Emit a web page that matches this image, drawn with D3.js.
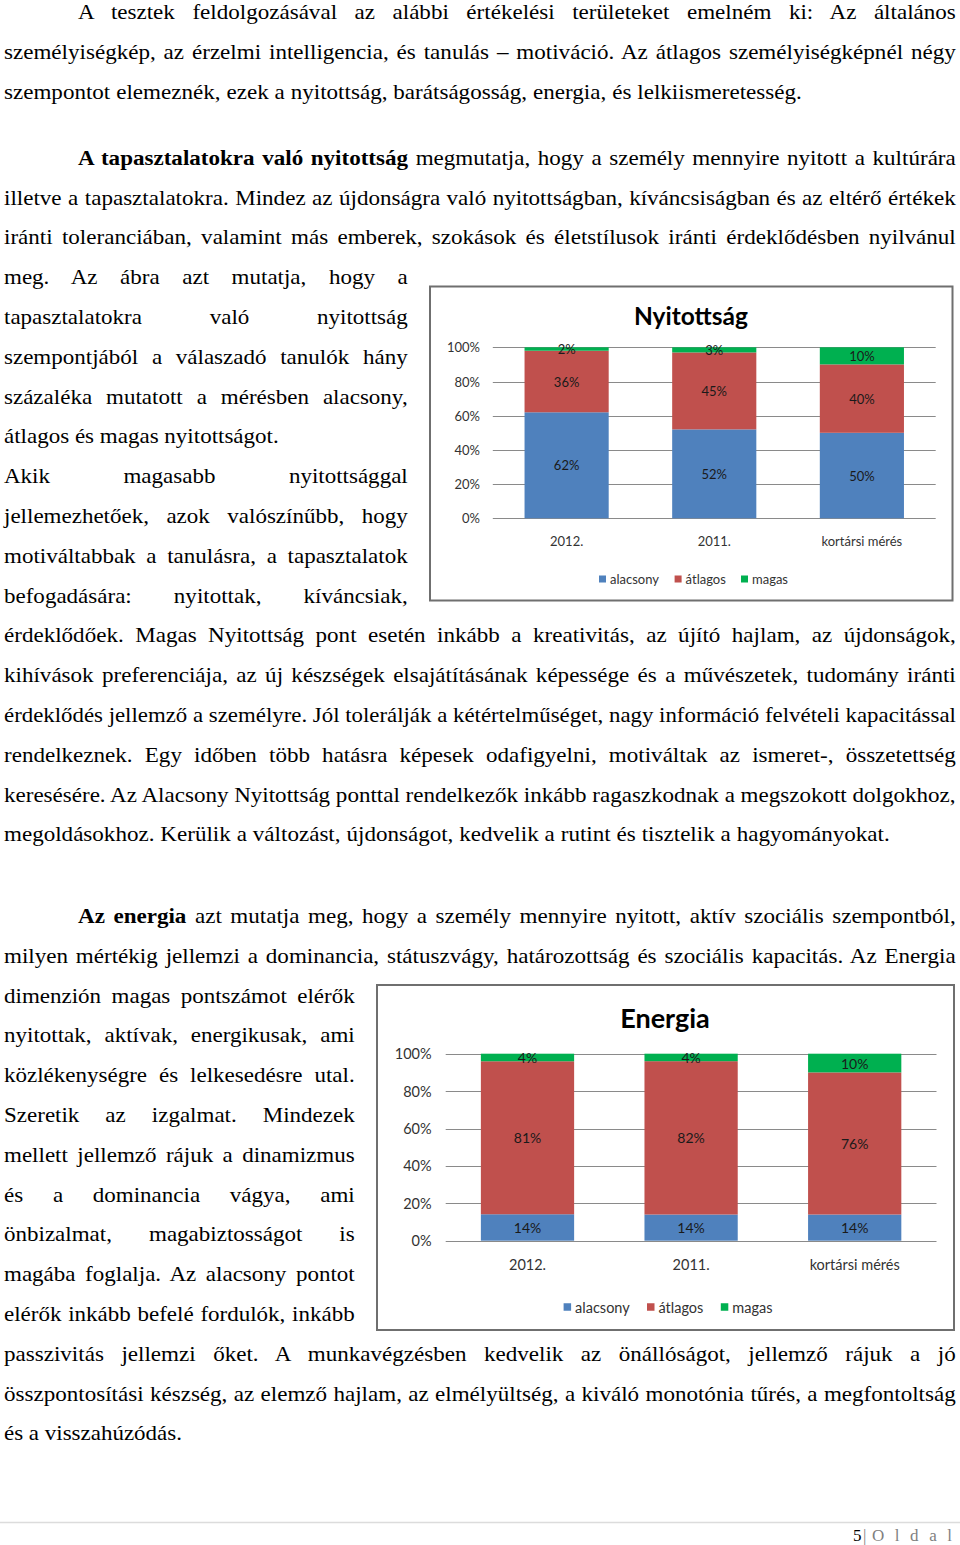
<!DOCTYPE html>
<html><head><meta charset="utf-8">
<script src="https://cdn.jsdelivr.net/npm/d3@7"></script>
<style>
body{margin:0;background:#fff}
svg{display:block}
.body{font-family:"Liberation Serif","Times New Roman",serif;font-size:21px;fill:#000}
.ch{font-family:Lato,"Noto Sans",sans-serif}
</style>
</head><body>
<svg id="page" width="960" height="1545"></svg>
<script>
// ---------- DATA ----------
const categories = ["2012.", "2011.", "kortársi mérés"];
const seriesNames = ["alacsony", "átlagos", "magas"];
const seriesColors = ["#4f81bd", "#c0504d", "#00b050"];
const yTicks = [0, 0.2, 0.4, 0.6, 0.8, 1];

const nyitAlacsony = [62, 52, 50];
const nyitAtlagos  = [36, 45, 40];
const nyitMagas    = [2, 3, 10];

const enAlacsony = [14, 14, 14];
const enAtlagos  = [81, 82, 76];
const enMagas    = [4, 4, 10];

// ---------- TEXT ----------
const para1 = [
  "A tesztek feldolgozásával az alábbi értékelési területeket emelném ki: Az általános",
  "személyiségkép, az érzelmi intelligencia, és tanulás – motiváció. Az átlagos személyiségképnél négy",
  "szempontot elemeznék, ezek a nyitottság, barátságosság, energia, és lelkiismeretesség."
];
const para2 = [
  "**A tapasztalatokra való nyitottság** megmutatja, hogy a személy mennyire nyitott a kultúrára",
  "illetve a tapasztalatokra. Mindez az újdonságra való nyitottságban, kíváncsiságban és az eltérő értékek",
  "iránti toleranciában, valamint más emberek, szokások és életstílusok iránti érdeklődésben nyilvánul",
  "meg. Az ábra azt mutatja, hogy a",
  "tapasztalatokra való nyitottság",
  "szempontjából a válaszadó tanulók hány",
  "százaléka mutatott a mérésben alacsony,",
  "átlagos és magas nyitottságot.",
  "Akik magasabb nyitottsággal",
  "jellemezhetőek, azok valószínűbb, hogy",
  "motiváltabbak a tanulásra, a tapasztalatok",
  "befogadására: nyitottak, kíváncsiak,",
  "érdeklődőek. Magas Nyitottság pont esetén inkább a kreativitás, az újító hajlam, az újdonságok,",
  "kihívások preferenciája, az új készségek elsajátításának képessége és a művészetek, tudomány iránti",
  "érdeklődés jellemző a személyre. Jól tolerálják a kétértelműséget, nagy információ felvételi kapacitással",
  "rendelkeznek. Egy időben több hatásra képesek odafigyelni, motiváltak az ismeret-, összetettség",
  "keresésére. Az Alacsony Nyitottság ponttal rendelkezők inkább ragaszkodnak a megszokott dolgokhoz,",
  "megoldásokhoz. Kerülik a változást, újdonságot, kedvelik a rutint és tisztelik a hagyományokat."
];
const para3 = [
  "**Az energia** azt mutatja meg, hogy a személy mennyire nyitott, aktív szociális szempontból,",
  "milyen mértékig jellemzi a dominancia, státuszvágy, határozottság és szociális kapacitás. Az Energia",
  "dimenzión magas pontszámot elérők",
  "nyitottak, aktívak, energikusak, ami",
  "közlékenységre és lelkesedésre utal.",
  "Szeretik az izgalmat. Mindezek",
  "mellett jellemző rájuk a dinamizmus",
  "és a dominancia vágya, ami",
  "önbizalmat, magabiztosságot is",
  "magába foglalja. Az alacsony pontot",
  "elérők inkább befelé fordulók, inkább",
  "passzivitás jellemzi őket. A munkavégzésben kedvelik az önállóságot, jellemző rájuk a jó",
  "összpontosítási készség, az elemző hajlam, az elmélyültség, a kiváló monotónia tűrés, a megfontoltság",
  "és a visszahúzódás."
];

const page = d3.select("#page");

function addRich(sel, str) {
  str.split("**").forEach((p, i) => {
    if (!p) return;
    sel.append("tspan").attr("font-weight", i % 2 ? "bold" : "normal").text(p);
  });
}
function natural(str) {
  const t = page.append("text").attr("class", "body");
  addRich(t, str);
  const w = t.node().getComputedTextLength();
  t.remove();
  return w;
}
// horizontal glyph scale, matched to unjustified (last) lines of the reference
const kFull = (798 / natural(para1[2]) + 886 / natural(para2[17]) + 178 / natural(para3[13])) / 3;
const kSide = 275 / natural(para2[7]);

function drawLine(str, x0, x1, y, k) {
  const w = natural(str);
  const target = x1 - x0;
  const gaps = (str.match(/ /g) || []).length;
  let kk = k, ws = 0;
  if (w * k > target) kk = target / w;
  else if (gaps > 0) ws = (target / k - w) / gaps;
  const g = page.append("g").attr("transform", `translate(${x0},${y}) scale(${kk},1)`);
  const t = g.append("text").attr("class", "body").attr("x", 0).attr("y", 0)
    .style("word-spacing", ws + "px");
  addRich(t, str);
}

const LH = 39.8;
function layoutPara(lines, y0, ends) {
  lines.forEach((s, i) => {
    const e = ends[i];
    drawLine(s, e[0], e[1], y0 + i * LH, e[2]);
  });
}
layoutPara(para1, 19, [[78, 956, kFull], [4, 956, kFull], [4, 802, kFull]]);
const p2ends = para2.map((s, i) => {
  if (i === 0) return [78, 956, kFull];
  if (i >= 3 && i <= 11) return i === 7 ? [4, 279, kSide] : [4, 408, kSide];
  if (i === 17) return [4, 890, kFull];
  return [4, 956, kFull];
});
layoutPara(para2, 164.8, p2ends);
const p3ends = para3.map((s, i) => {
  if (i === 0) return [78, 956, kFull];
  if (i >= 2 && i <= 10) return [4, 355, kSide];
  if (i === 13) return [4, 182, kFull];
  return [4, 956, kFull];
});
layoutPara(para3, 923, p3ends);

// footer
page.append("line").attr("x1", 0).attr("x2", 960).attr("y1", 1522.5).attr("y2", 1522.5)
  .attr("stroke", "#dcdcdc").attr("stroke-width", 1.5);
page.append("text").attr("class", "body").attr("x", 853).attr("y", 1541)
  .style("font-size", "17px").text("5");
page.append("text").attr("class", "body").attr("x", 863).attr("y", 1541)
  .style("font-size", "17px").style("fill", "#7f7f7f").text("|");
page.append("text").attr("class", "body").attr("x", 872).attr("y", 1541)
  .style("font-size", "17px").style("fill", "#7f7f7f")
  .attr("textLength", 80).attr("lengthAdjust", "spacing").text("Oldal");

// ---------- CHARTS ----------
function drawChart(cfg) {
  const g = page.append("g").attr("class", "ch");
  g.append("rect").attr("x", cfg.box[0]).attr("y", cfg.box[1])
    .attr("width", cfg.box[2]).attr("height", cfg.box[3])
    .attr("fill", "#fff").attr("stroke", "#6f6f6f").attr("stroke-width", 2);
  g.append("text").attr("x", cfg.titleX).attr("y", cfg.titleY)
    .attr("text-anchor", "middle").attr("dominant-baseline", "central")
    .attr("font-weight", "bold").attr("font-size", cfg.titleSize).attr("fill", "#000")
    .text(cfg.title);

  const x = d3.scaleBand().domain(categories).range([cfg.px0, cfg.px1])
    .paddingInner(0.43).paddingOuter(0.215);
  const y = d3.scaleLinear().domain([0, 1]).range([cfg.pyB, cfg.pyT]);

  g.append("g").selectAll("line").data(yTicks).join("line")
    .attr("x1", cfg.px0).attr("x2", cfg.px1)
    .attr("y1", d => Math.round(y(d)) + 0.5).attr("y2", d => Math.round(y(d)) + 0.5)
    .attr("stroke", "#8a8a8a").attr("stroke-width", 1);

  const ya = g.append("g").attr("transform", `translate(${cfg.yLabelRight + 6},0)`)
    .call(d3.axisLeft(y).tickValues(yTicks).tickFormat(d3.format(".0%")).tickSize(0).tickPadding(6));
  ya.select(".domain").remove();
  ya.selectAll("text").attr("font-family", "Lato, 'Noto Sans', sans-serif")
    .attr("font-size", cfg.fs).attr("fill", "#333").attr("dy", "0.35em");

  const xa = g.append("g").attr("transform", `translate(0,${cfg.xLabelY})`)
    .call(d3.axisBottom(x).tickSize(0).tickPadding(0));
  xa.select(".domain").remove();
  xa.selectAll("text").attr("font-family", "Lato, 'Noto Sans', sans-serif")
    .attr("font-size", cfg.fs).attr("fill", "#333").attr("y", 0).attr("dy", "0.35em");

  const rows = categories.map((c, i) => {
    const r = { cat: c };
    seriesNames.forEach((s, k) => r[s] = cfg.values[k][i]);
    return r;
  });
  const stacked = d3.stack().keys(seriesNames).offset(d3.stackOffsetExpand)(rows);

  const layers = g.append("g").selectAll("g").data(stacked).join("g")
    .attr("fill", (d, i) => seriesColors[i]);
  layers.selectAll("rect").data(d => d).join("rect")
    .attr("x", d => x(d.data.cat)).attr("width", x.bandwidth())
    .attr("y", d => y(d[1])).attr("height", d => y(d[0]) - y(d[1]));

  const lab = g.append("g").selectAll("g").data(stacked).join("g");
  lab.selectAll("text").data(d => d.map(v => ({ v, key: d.key }))).join("text")
    .attr("x", d => x(d.v.data.cat) + x.bandwidth() / 2)
    .attr("y", d => (y(d.v[0]) + y(d.v[1])) / 2)
    .attr("text-anchor", "middle").attr("dominant-baseline", "central")
    .attr("font-size", cfg.labelFs).attr("fill", "#1a1a1a")
    .text(d => d.v.data[d.key] + "%");

  const leg = g.append("g").selectAll("g").data(seriesNames).join("g")
    .attr("transform", (d, i) => `translate(${cfg.legendX[i]},${cfg.legendY})`);
  leg.append("rect").attr("x", 0).attr("y", -cfg.sq / 2).attr("width", cfg.sq).attr("height", cfg.sq)
    .attr("fill", (d, i) => seriesColors[i]);
  leg.append("text").attr("x", cfg.sq + 4).attr("y", 0).attr("dominant-baseline", "central")
    .attr("font-size", cfg.fs).attr("fill", "#333").text(d => d);
}

drawChart({
  title: "Nyitottság", titleX: 691, titleY: 315, titleSize: 24.5,
  box: [430, 286.5, 522.5, 314],
  px0: 492.8, px1: 935.7, pyT: 347.3, pyB: 518.3,
  yLabelRight: 480, xLabelY: 541, legendY: 579,
  legendX: [599, 674.6, 741], sq: 7,
  fs: 13, labelFs: 13,
  values: [nyitAlacsony, nyitAtlagos, nyitMagas]
});

drawChart({
  title: "Energia", titleX: 665, titleY: 1017, titleSize: 27,
  box: [377, 985, 577, 345],
  px0: 445.7, px1: 936.5, pyT: 1053.7, pyB: 1240.7,
  yLabelRight: 431.6, xLabelY: 1265, legendY: 1307,
  legendX: [563.6, 647, 720.8], sq: 7.5,
  fs: 14.5, labelFs: 14,
  values: [enAlacsony, enAtlagos, enMagas]
});
</script>
</body></html>
